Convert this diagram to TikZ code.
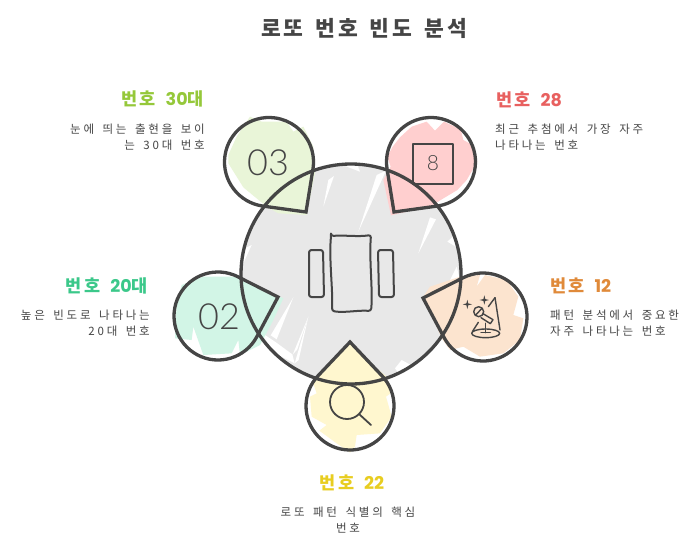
\documentclass[tikz,border=0pt]{standalone}
\usepackage{fontspec}
\setmainfont{Noto Sans CJK KR}
\newfontfamily\bodyf[LetterSpace=24,WordSpace=1.6]{Noto Sans CJK KR}
\newfontfamily\headf[LetterSpace=14,WordSpace=1.8]{Noto Sans CJK KR}
\newfontfamily\titlef[LetterSpace=14,WordSpace=1.5]{Noto Sans CJK KR}
\newfontfamily\digf{Poppins}
\newfontfamily\bigf{Lato Light}
\definecolor{ink}{HTML}{454545}
\definecolor{cgray}{HTML}{E8E8E8}
\definecolor{cgreen}{HTML}{E9F5D8}
\definecolor{cpink}{HTML}{FFCFCF}
\definecolor{cmint}{HTML}{D2F5E6}
\definecolor{cpeach}{HTML}{FCE4CF}
\definecolor{cyel}{HTML}{FFF7CF}
\definecolor{hgreen}{HTML}{95C83A}
\definecolor{hmint}{HTML}{3BC88A}
\definecolor{hred}{HTML}{E8605F}
\definecolor{horange}{HTML}{E08A3A}
\definecolor{hyel}{HTML}{E8CD20}
\newcommand{\tear}[5]{% cx cy r tx ty
  \pgfmathsetmacro{\phiA}{atan2(#5-#2,#4-#1)}
  \pgfmathsetmacro{\dA}{sqrt((#5-#2)*(#5-#2)+(#4-#1)*(#4-#1))}
  \pgfmathsetmacro{\alA}{acos(#3/\dA)}
  \pgfmathsetmacro{\stA}{\phiA+\alA}
  \pgfmathsetmacro{\enA}{\phiA-\alA+360}
  \draw[outline] (#4,#5) -- ($(#1,#2)+(\stA:#3)$) arc[start angle=\stA,end angle=\enA,radius=#3] -- cycle;
}
\newcommand{\hd}[2]{{\headf\bfseries #1}{\digf\bfseries #2}}
\newcommand{\spark}[3]{\fill[ink] (#1-#3,#2) -- (#1-#3*.2,#2-#3*.2) -- (#1,#2-#3) -- (#1+#3*.2,#2-#3*.2) -- (#1+#3,#2) -- (#1+#3*.2,#2+#3*.2) -- (#1,#2+#3) -- (#1-#3*.2,#2+#3*.2) -- cycle;}
\usetikzlibrary{calc}
\tikzset{
  outline/.style={draw=ink,line width=3.3pt,line join=miter,miter limit=10},
  icon/.style={draw=ink,line width=2pt,line join=round,line cap=round},
  thin icon/.style={draw=ink,line width=1.4pt,line join=round,line cap=round},
  streak/.style={fill=white,draw=none},
  body/.style={text=ink,inner sep=0pt,font=\fontsize{11.5}{16.5}\selectfont\bodyf},
  head/.style={inner sep=0pt,font=\fontsize{17.5}{18}\selectfont},
  number/.style={text=ink,inner sep=0pt,font=\fontsize{36}{36}\selectfont\bigf}
}
\begin{document}
\begin{tikzpicture}[x=1pt,y=-1pt]
\useasboundingbox (0,0) rectangle (700,546);
\fill[white] (0,0) rectangle (700,546);
% central gray
\fill[cgray] (351,274) circle[radius=110];
% white streaks top
\begin{scope}[shift={(200,100)},scale=1/3]
\fill[streak] (370,320) -- (402,228) -- (385,240) -- cycle;
\fill[streak] (475,395) -- (558,212) -- (530,225) -- cycle;
\fill[streak] (655,460) -- (708,358) -- (690,352) -- cycle;
\fill[streak] (742,425) -- (785,450) -- (770,400) -- cycle;
\fill[streak] (435,198) -- (480,215) -- (470,190) -- cycle;
\fill[streak] (130,490) -- (155,435) -- (125,450) -- cycle;
\end{scope}
\begin{scope}[shift={(160,260)},scale=1/3]
\fill[streak] (332,226) -- (400,112) -- (350,238) -- cycle;
\fill[streak] (398,284) -- (445,170) -- (412,268) -- cycle;
\fill[streak] (300,215) -- (345,245) -- (397,283) -- (404,310) -- (345,280) -- cycle;
\fill[streak] (404,310) -- (445,170) -- (416,300) -- cycle;
\fill[streak] (705,325) -- (725,300) -- (765,322) -- (720,345) -- cycle;
\fill[streak] (870,60) -- (890,20) -- (900,60) -- cycle;
\end{scope}
% washes
\begin{scope}[shift={(200,100)},scale=1/3]
\fill[cgreen] (150,50) -- (185,65) -- (260,65) -- (280,95) -- (310,80) -- (340,140) -- (345,220) -- (320,345) -- (235,340) -- (200,320) -- (130,262) -- (85,190) -- (85,165) -- (110,110) -- cycle;
\fill[cpink] (635,80) -- (680,65) -- (705,92) -- (732,65) -- (782,88) -- (790,120) -- (812,132) -- (832,185) -- (800,240) -- (772,270) -- (722,300) -- (695,318) -- (573,346) -- (550,240) -- (572,200) -- (562,170) -- (578,140) -- (600,112) -- cycle;
\end{scope}
\begin{scope}[shift={(160,260)},scale=1/3]
\fill[cmint] (65,75) -- (130,50) -- (225,50) -- (245,60) -- (370,115) -- (340,180) -- (300,255) -- (240,285) -- (235,240) -- (215,280) -- (130,285) -- (100,200) -- (95,240) -- (45,235) -- (50,130) -- cycle;
\fill[cpeach] (810,80) -- (855,65) -- (900,50) -- (960,45) -- (950,80) -- (975,45) -- (1040,60) -- (1075,110) -- (1060,165) -- (1090,175) -- (1080,240) -- (1030,280) -- (960,290) -- (910,260) -- (870,270) -- (845,235) -- (790,110) -- cycle;
\fill[cyel] (570,245) -- (620,300) -- (680,350) -- (692,400) -- (678,410) -- (695,470) -- (660,520) -- (590,525) -- (585,560) -- (570,578) -- (530,550) -- (478,512) -- (500,495) -- (455,470) -- (450,410) -- (470,400) -- (458,365) -- cycle;
\end{scope}
% outlines
\draw[outline] (351,274) circle[radius=110];
\tear{269}{162}{44.5}{306}{212}
\tear{431}{162}{44.5}{394}{212}
\tear{218}{316}{44}{278}{297}
\tear{483}{317}{44}{423}{298}
\tear{350}{406}{44}{350}{342}
% central icon
\draw[icon,rounded corners=2.5pt] (331,236) .. controls (345,235) and (358,237) .. (371,235) .. controls (369,260) and (373,290) .. (371,311) .. controls (358,310) and (345,313) .. (332,311) .. controls (333,290) and (329,260) .. (331,236) -- cycle;
\draw[icon,rounded corners=2.5pt] (309,250) -- (323,250) -- (324,297) -- (309,297) -- cycle;
\draw[icon,rounded corners=2.5pt] (378,250) -- (393,250) -- (394,297) -- (379,297) -- cycle;
% numbers and square
\node[number] (n03) at (268,163) {03};
\node[number] (n02) at (219,317) {02};
\draw[icon] (413,144) rectangle (453,184);
\node[text=ink,inner sep=0pt,font=\fontsize{21}{21}\selectfont\bigf] (n8) at (433,163) {8};
% magnifier
\draw[icon,line width=1.8pt] (347,402) circle[radius=17];
\draw[icon,line width=1.8pt] (359,414) -- (371,425);
% mic icon
\begin{scope}[shift={(455,285)},scale=1/3]
\spark{37}{58}{14}
\spark{88}{45}{14}
\draw[thin icon] (71,80) circle[radius=15];
\draw[thin icon] (62,90) -- (81,70);
\draw[thin icon] (84,86) -- (114,104) -- (106,116) -- (78,98);
\draw[thin icon] (92,115) -- (92,143);
\draw[thin icon] (92,145) ellipse[x radius=42,y radius=13];
\draw[thin icon] (120,38) -- (135,135);
\draw[thin icon] (120,38) -- (100,65);
\draw[thin icon] (70,112) -- (52,140);
\draw[thin icon] (78,143) -- (106,143);
\end{scope}
% texts
\node[text=ink,inner sep=0pt,font=\fontsize{21.5}{22}\selectfont\titlef\bfseries] (title) at (364,28) {로또 번호 빈도 분석};
\node[head,anchor=east,text=hgreen] (h30) at (204,99) {\hd{번호 }{30}{\headf\bfseries 대}};
\node[head,anchor=east,text=hmint] (h20) at (148,286) {\hd{번호 }{20}{\headf\bfseries 대}};
\node[head,anchor=west,text=hred] (h28) at (496,100) {\hd{번호 }{28}};
\node[head,anchor=west,text=horange] (h12) at (550,286) {\hd{번호 }{12}};
\node[head,text=hyel] (h22) at (352,483) {\hd{번호 }{22}};
\node[body,align=right,anchor=east] (d30) at (205,137) {눈에 띄는 출현을 보이\\는 30대 번호};
\node[body,align=right,anchor=east] (d20) at (150,323) {높은 빈도로 나타나는\\20대 번호};
\node[body,align=left,anchor=west] (d28) at (495,137) {최근 추첨에서 가장 자주\\나타나는 번호};
\node[body,align=left,anchor=west] (d12) at (550,323) {패턴 분석에서 중요한\\자주 나타나는 번호};
\node[body,align=center] (d22) at (348,520) {로또 패턴 식별의 핵심\\번호};
\end{tikzpicture}
\end{document}
